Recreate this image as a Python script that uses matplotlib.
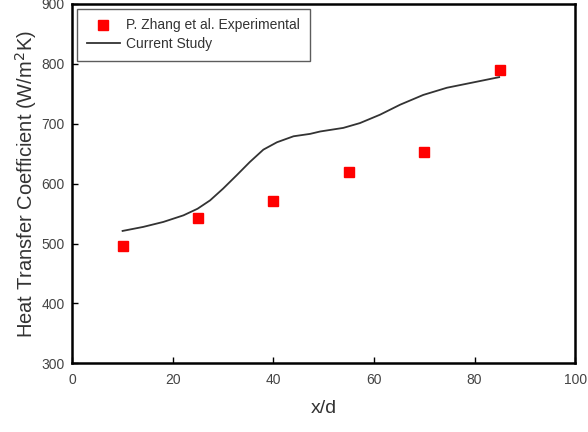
import matplotlib.pyplot as plt

plt.rcParams["font.family"] = ["Liberation Sans", "DejaVu Sans"]

# experimental points
x_exp = [10, 25, 40, 55, 70, 85]
h_exp = [495, 542, 571, 619, 653, 789]

# current study curve
x_sim = [10, 14.1, 18.1, 22.1, 24.9, 27.4, 30.0, 32.7, 35.3, 38.0, 40.7, 44.0,
         47.3, 49.3, 53.9, 57.2, 61.2, 65.2, 69.8, 74.5, 79.8, 84.9]
h_sim = [521, 527.7, 536, 547, 558, 572, 591.7, 614, 636, 656.7, 669, 679,
         683, 687, 693, 701, 715, 731.7, 748, 760, 769, 777.7]

fig = plt.figure(figsize=(5.88, 4.32), dpi=100)
ax = fig.add_axes([0.123, 0.159, 0.855, 0.832])

ax.plot(x_exp, h_exp, "s", color="#ff0000", markersize=7.5, lw=0,
        label="P. Zhang et al. Experimental")
ax.plot(x_sim, h_sim, "-", color="#333333", lw=1.3, label="Current Study")

ax.set_xlim(0, 100)
ax.set_ylim(300, 900)
ax.set_xticks([0, 20, 40, 60, 80, 100])
ax.set_yticks([300, 400, 500, 600, 700, 800, 900])
ax.tick_params(direction="in", length=4, width=1, labelsize=10,
               labelcolor="#444444")
ax.tick_params(axis="x", pad=7)
ax.tick_params(axis="y", pad=5.5)
for s in ax.spines.values():
    s.set_linewidth(1.8)

ax.set_xlabel("x/d", fontsize=14, color="#333333", labelpad=9)
ax.set_ylabel("Heat Transfer Coefficient (W/m$^2$K)", fontsize=14.5,
              color="#333333", labelpad=1.5)

leg = ax.legend(loc="upper left", fontsize=10, frameon=True, fancybox=False,
                edgecolor="#333333", borderaxespad=0.35, handlelength=2.35,
                handletextpad=0.5, markerscale=1.0, borderpad=0.7,
                labelspacing=0.32)
leg.get_frame().set_linewidth(1.0)
for t in leg.get_texts():
    t.set_color("#333333")

fig.savefig("out.png", dpi=100)
